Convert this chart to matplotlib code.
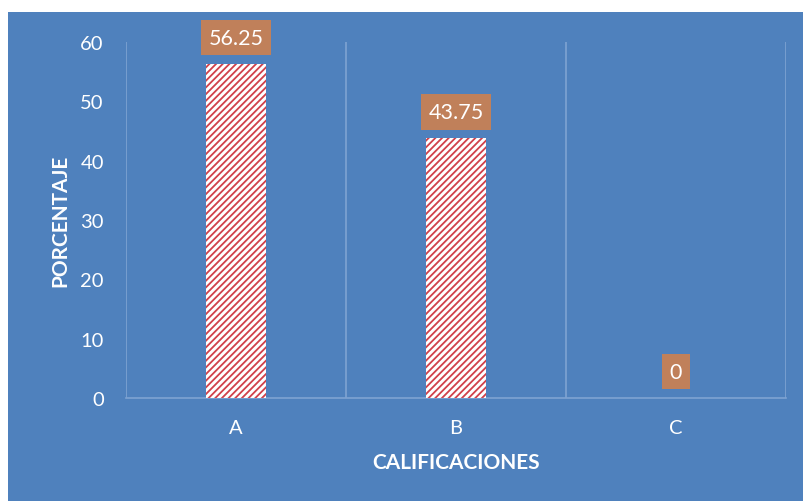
import matplotlib
matplotlib.use("Agg")
import matplotlib.pyplot as plt
from matplotlib.patches import Rectangle

plt.rcParams['font.family'] = ['Lato', 'DejaVu Sans']
plt.rcParams['hatch.linewidth'] = 1.3

categories = ['A', 'B', 'C']
percentages = [56.25, 43.75, 0]
y_ticks = [0, 10, 20, 30, 40, 50, 60]

bg_blue = '#4F81BD'
grid_blue = '#7EA3D2'
label_brown = '#C0805A'

fig = plt.figure(figsize=(8.04, 5.02), dpi=100)
fig.patch.set_facecolor('white')
fig.patches.append(Rectangle((8 / 804, 0), 1 - 8 / 804, 1 - 13 / 502,
                             transform=fig.transFigure, facecolor=bg_blue,
                             edgecolor='none', zorder=-10))

ax = fig.add_axes([126 / 804, 1 - 399 / 502, (786 - 126) / 804, (399 - 43) / 502])
ax.set_facecolor('none')

x = range(len(categories))
bars = ax.bar(x, percentages, width=0.27, color='white', edgecolor='#D0404A',
              hatch='/////', linewidth=0, zorder=3)

for xi, val in zip(x, percentages):
    ax.annotate(f'{val:g}', xy=(xi, val), xytext=(0, 19), textcoords='offset points',
                ha='center', va='center', color='white', fontsize=15.5,
                bbox=dict(boxstyle='square,pad=0.35', facecolor=label_brown,
                          edgecolor='none'), zorder=5)

ax.set_xlim(-0.5, 2.5)
ax.set_ylim(0, 60)
ax.set_xticks(list(x))
ax.set_xticklabels(categories)
ax.set_yticks(y_ticks)

# vertical lines between categories
for b in [-0.5, 0.5, 1.5, 2.5]:
    ax.axvline(b, color=grid_blue, linewidth=1.2, zorder=1)

for side in ['top', 'right', 'left']:
    ax.spines[side].set_visible(False)
ax.spines['bottom'].set_color(grid_blue)
ax.spines['bottom'].set_linewidth(1.2)

ax.tick_params(axis='both', length=0, colors='white', labelsize=14.5)
ax.tick_params(axis='y', pad=16)
ax.tick_params(axis='x', pad=15)

ax.set_ylabel('PORCENTAJE', color='white', fontsize=15, fontweight='bold', labelpad=7)
ax.set_xlabel('CALIFICACIONES', color='white', fontsize=15, fontweight='bold', labelpad=12)

fig.savefig('out.png', dpi=100)
